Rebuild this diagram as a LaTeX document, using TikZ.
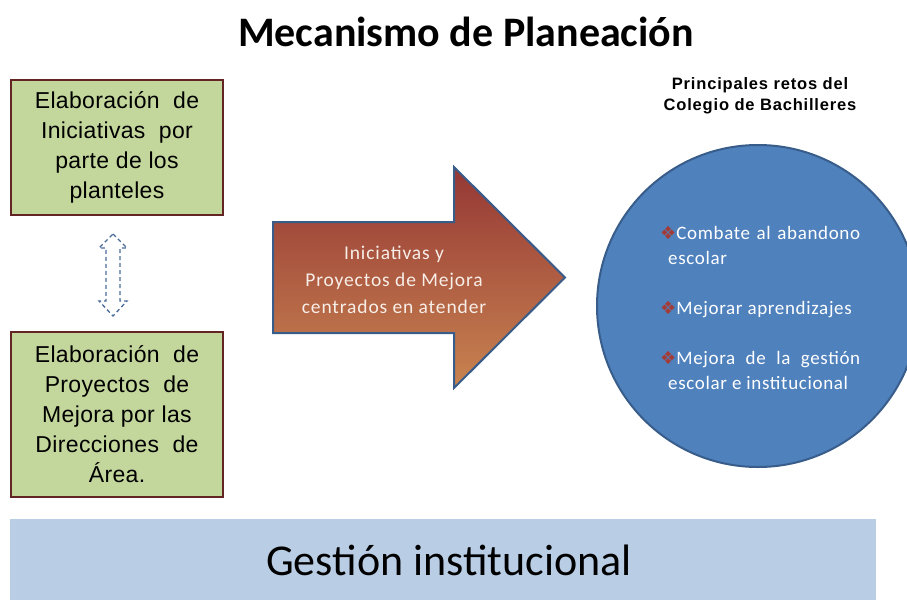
\documentclass[tikz,border=0pt]{standalone}
\usepackage{fontspec}
\setmainfont{Liberation Sans}
\newfontfamily\calfont{Carlito}
\newfontfamily\calspaced{Carlito}[LetterSpace=3.5]
\newfontfamily\calarrow{Carlito}[LetterSpace=4.5]
\newfontfamily\arialspaced{Liberation Sans}[LetterSpace=1.5]
\newfontfamily\arialwide{Liberation Sans}[LetterSpace=5]
\newfontfamily\symfont{DejaVu Sans}
\usetikzlibrary{shapes.geometric}
\definecolor{boxgreen}{HTML}{C3D69B}
\definecolor{boxborder}{HTML}{632523}
\definecolor{arrtop}{HTML}{953735}
\definecolor{arrmid}{HTML}{D49A66}
\definecolor{arrbot}{HTML}{C98450}
\definecolor{blueborder}{HTML}{385D8A}
\definecolor{circfill}{HTML}{4F81BD}
\definecolor{bandfill}{HTML}{B9CDE5}
\definecolor{dasharr}{HTML}{4A6B9A}
\definecolor{bulred}{HTML}{A33B37}
\definecolor{lighttext}{HTML}{F7EEE8}
\newcommand\retobullet{\par\hangindent=8pt\hangafter=1\noindent{\color{bulred}\symfont\fontsize{18}{25}\selectfont ❖}}
\tikzset{
  greenbox/.style={draw=boxborder, line width=2pt, fill=boxgreen, minimum width=212pt, align=center,
    font=\arialspaced\fontsize{23}{30}\selectfont, inner sep=0pt},
}
\begin{document}
\begin{tikzpicture}[x=1pt,y=-1pt]
\clip (0,0) rectangle (907,600);
\useasboundingbox (0,0) rectangle (907,600);
% title
\node[font=\calfont\bfseries\fontsize{42}{48}\selectfont, anchor=base] (title) at (466,46) {Mecanismo de Planeación};
% left boxes
\node[greenbox, minimum height=135pt] (box1) at (117,147.5) {Elaboración\ \ de\\Iniciativas\ \ por\\parte\ de\ los\\planteles};
\node[greenbox, minimum height=165pt] (box2) at (117,414.5) {Elaboración\ \ de\\Proyectos\ \ de\\Mejora\ por\ las\\Direcciones\ \ de\\Área.};
% dashed double arrow
\draw[dasharr, line width=1.3pt, dash pattern=on 4pt off 3pt]
  (113,234) -- (127,248) -- (120,248) -- (120,301) -- (127,301) -- (113,316)
  -- (99,301) -- (106,301) -- (106,248) -- (99,248) -- cycle;
% big arrow
\path[draw=blueborder, line width=2pt, top color=arrtop, middle color=arrmid, bottom color=arrbot]
  (273,222) -- (454,222) -- (454,167) -- (565,277.5) -- (454,388) -- (454,333) -- (273,333) -- cycle;
\node[font=\calarrow\fontsize{19.5}{27}\selectfont, text=lighttext, align=center] (arrtext) at (394,280)
  {Iniciativas y\\Proyectos de Mejora\\centrados en atender};
% circle
\node[circle, draw=blueborder, line width=2pt, fill=circfill, minimum size=322pt] (circ) at (758,306) {};
\node[font=\arialwide\bfseries\fontsize{16.5}{21}\selectfont, align=center] (retostitle) at (760,96)
  {Principales retos del\\Colegio de Bachilleres};
\node[anchor=north west, text width=200pt, align=justify, inner sep=0pt, text=white,
  font=\calspaced\fontsize{19}{25}\selectfont] (retos) at (660,214)
  {\retobullet Combate al abandono\linebreak escolar\par
   \vspace{25pt}\retobullet Mejorar aprendizajes\par
   \vspace{25pt}\retobullet Mejora de la gestión\linebreak escolar e institucional\par};
% band
\node[fill=bandfill, minimum width=866pt, minimum height=81pt, inner sep=0pt] (band) at (443,559.5) {};
\node[font=\calfont\fontsize{44}{50}\selectfont] (bandtext) at (449,560) {Gestión institucional};
\end{tikzpicture}
\end{document}
